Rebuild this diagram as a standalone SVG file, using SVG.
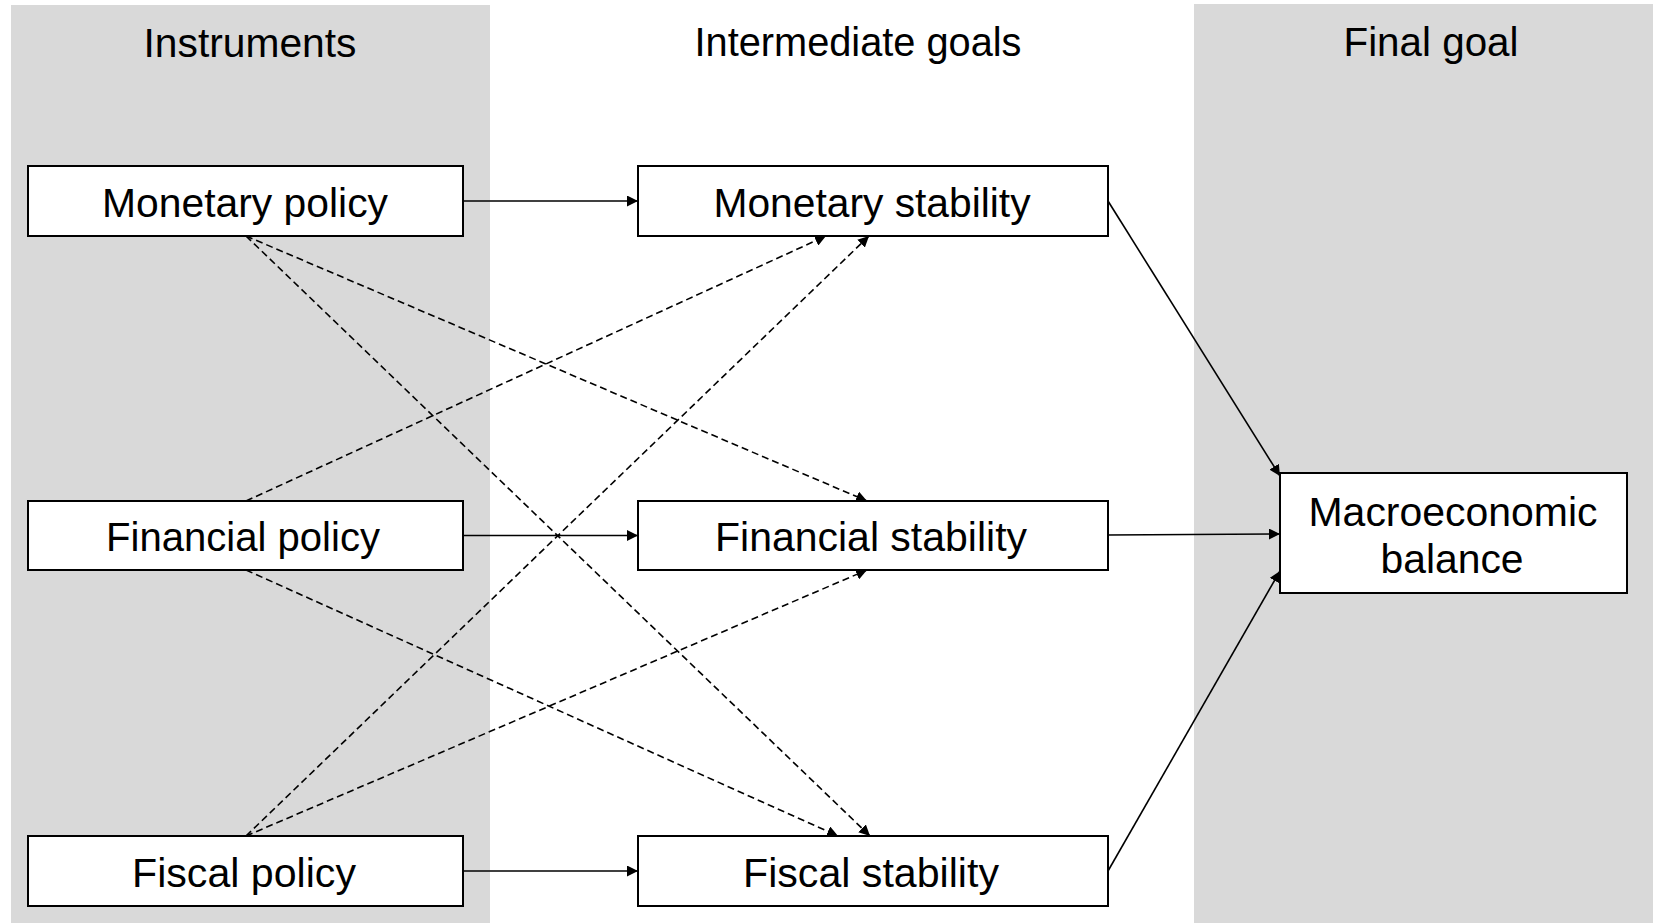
<svg xmlns="http://www.w3.org/2000/svg" width="1653" height="923" viewBox="0 0 1653 923">
<defs>
<style>
.panel{fill:#d9d9d9;stroke:none}
.box{fill:#ffffff;stroke:#000000;stroke-width:2}
.t{font-family:"Liberation Sans",Arial,sans-serif;font-size:41px;fill:#000000;text-anchor:middle}
.solid{stroke:#000000;stroke-width:1.6;fill:none;marker-end:url(#arr)}
.dash{stroke:#000000;stroke-width:1.6;fill:none;stroke-dasharray:7 4;marker-end:url(#arr)}
</style>
<marker id="arr" viewBox="0 0 11 11" refX="11" refY="5.5" markerWidth="11" markerHeight="11" markerUnits="userSpaceOnUse" orient="auto">
<path d="M0,0 L11,5.5 L0,11 z" fill="#000000"/>
</marker>
</defs>
<rect width="1653" height="923" fill="#ffffff"/>
<g id="panels">
<rect class="panel" x="11" y="5" width="479" height="918"/>
<rect class="panel" x="1194" y="4" width="459" height="919"/>
<text class="t" x="250" y="56.5" textLength="213" lengthAdjust="spacingAndGlyphs">Instruments</text>
<text class="t" x="858" y="55.5" textLength="327" lengthAdjust="spacingAndGlyphs">Intermediate goals</text>
<text class="t" x="1431" y="56" textLength="175" lengthAdjust="spacingAndGlyphs">Final goal</text>
</g>
<g id="connectors">
<line class="solid" x1="463" y1="201" x2="638" y2="201"/>
<line class="solid" x1="463" y1="535.5" x2="638" y2="535.5"/>
<line class="solid" x1="463" y1="871" x2="638" y2="871"/>
<line class="solid" x1="1108" y1="201" x2="1280" y2="476"/>
<line class="solid" x1="1108" y1="535" x2="1280" y2="534"/>
<line class="solid" x1="1108" y1="871" x2="1280" y2="571"/>
<line class="dash" x1="246" y1="236" x2="867" y2="501"/>
<line class="dash" x1="246" y1="236" x2="870" y2="836"/>
<line class="dash" x1="246" y1="501" x2="826" y2="236"/>
<line class="dash" x1="246" y1="570" x2="838" y2="836"/>
<line class="dash" x1="246" y1="836" x2="869" y2="236"/>
<line class="dash" x1="246" y1="836" x2="867" y2="570"/>
</g>
<g id="monetary-policy">
<rect class="box" x="28" y="166" width="435" height="70"/>
<text class="t" x="245" y="216.5" textLength="286" lengthAdjust="spacingAndGlyphs">Monetary policy</text>
</g>
<g id="financial-policy">
<rect class="box" x="28" y="501" width="435" height="69"/>
<text class="t" x="243" y="551" textLength="274" lengthAdjust="spacingAndGlyphs">Financial policy</text>
</g>
<g id="fiscal-policy">
<rect class="box" x="28" y="836" width="435" height="70"/>
<text class="t" x="244" y="886.5" textLength="224" lengthAdjust="spacingAndGlyphs">Fiscal policy</text>
</g>
<g id="monetary-stability">
<rect class="box" x="638" y="166" width="470" height="70"/>
<text class="t" x="872" y="216.5" textLength="317" lengthAdjust="spacingAndGlyphs">Monetary stability</text>
</g>
<g id="financial-stability">
<rect class="box" x="638" y="501" width="470" height="69"/>
<text class="t" x="871" y="551" textLength="312" lengthAdjust="spacingAndGlyphs">Financial stability</text>
</g>
<g id="fiscal-stability">
<rect class="box" x="638" y="836" width="470" height="70"/>
<text class="t" x="871" y="886.5" textLength="256" lengthAdjust="spacingAndGlyphs">Fiscal stability</text>
</g>
<g id="macroeconomic-balance">
<rect class="box" x="1280" y="473" width="347" height="120"/>
<text class="t" x="1453" y="525.5" textLength="289" lengthAdjust="spacingAndGlyphs">Macroeconomic</text>
<text class="t" x="1452" y="573" textLength="143" lengthAdjust="spacingAndGlyphs">balance</text>
</g>
</svg>
